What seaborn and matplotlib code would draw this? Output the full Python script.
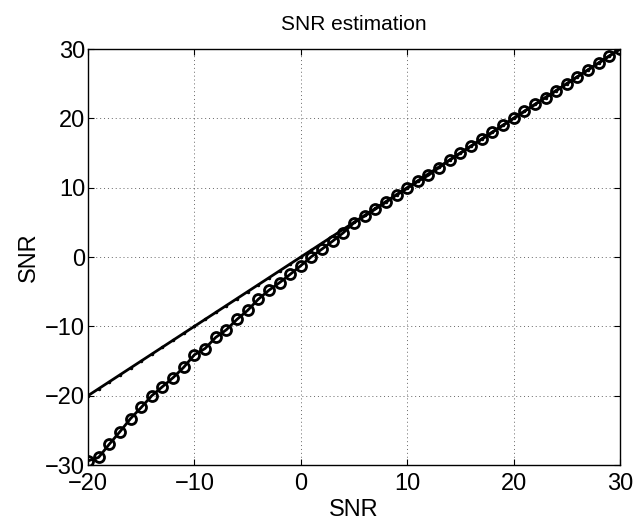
import numpy as np
import pandas as pd
import matplotlib
matplotlib.use("Agg")
import matplotlib.pyplot as plt
import seaborn as sns

snr_true = list(range(-20, 31))
snr_ideal = list(range(-20, 31))
snr_est = [-29.4, -28.9, -27.0, -25.2, -23.3, -21.7, -20.0, -18.7, -17.4, -15.9,
           -14.1, -13.2, -11.6, -10.5, -9.0, -7.7, -6.1, -4.8, -3.7, -2.5,
           -1.25, 0.05, 1.15, 2.3, 3.5, 4.95, 5.9, 6.9, 7.9, 8.95,
           9.9, 10.9, 11.8, 12.9, 14.0, 15.0, 16.0, 17.0, 18.0, 19.0,
           20.0, 21.0, 22.0, 23.0, 24.0, 25.0, 26.0, 27.0, 28.0, 29.0, 30.0]
xticks = [-20, -10, 0, 10, 20, 30]
yticks = [-30, -20, -10, 0, 10, 20, 30]

sns.set_theme(style="white")
plt.rcParams['font.family'] = ['Liberation Sans', 'DejaVu Sans']
plt.rcParams['axes.unicode_minus'] = True
plt.rcParams['text.color'] = 'black'
plt.rcParams['axes.labelcolor'] = 'black'

df_ideal = pd.DataFrame({"SNR": snr_true, "val": snr_ideal})
df_est = pd.DataFrame({"SNR": snr_true, "val": snr_est})

fig = plt.figure(figsize=(6.36, 5.2), dpi=100)
ax = fig.add_axes([88/636, 1-465/520, (620-88)/636, (465-49)/520])

sns.lineplot(data=df_ideal, x="SNR", y="val", ax=ax, color="black", lw=2,
             marker=".", markersize=3.5, markeredgecolor="black")
sns.lineplot(data=df_est, x="SNR", y="val", ax=ax, color="black", lw=2,
             marker="o", markersize=7.2, markerfacecolor="none",
             markeredgecolor="black", markeredgewidth=2)

ax.set_xlim(-20, 30)
ax.set_ylim(-30, 30)
ax.set_xticks(xticks)
ax.set_yticks(yticks)
ax.tick_params(direction="in", length=4, width=0.8, labelsize=17,
               top=True, right=True, bottom=True, left=True, colors="black")
ax.tick_params(axis="x", pad=5.5)
ax.tick_params(axis="y", pad=2)
ax.grid(True, linestyle=(0, (1, 3)), color="black", lw=0.7, alpha=0.6)
for s in ax.spines.values():
    s.set_color("black")
    s.set_linewidth(1)
ax.set_xlabel("SNR", fontsize=17, labelpad=3)
ax.set_ylabel("SNR", fontsize=17, labelpad=4)
ax.set_title("SNR estimation", fontsize=15, pad=14)

fig.savefig("out.png", dpi=100)
